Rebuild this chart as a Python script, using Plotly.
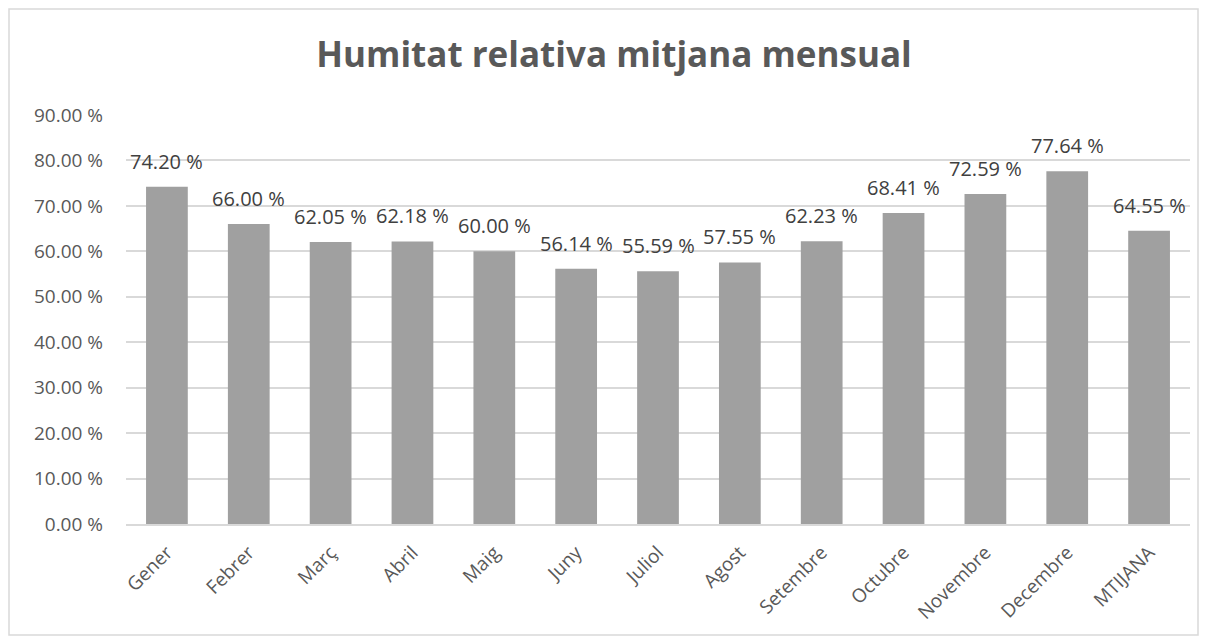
import plotly.graph_objects as go

categories = ["Gener", "Febrer", "Març", "Abril", "Maig", "Juny", "Juliol", "Agost",
              "Setembre", "Octubre", "Novembre", "Decembre", "MTIJANA"]
values = [74.20, 66.00, 62.05, 62.18, 60.00, 56.14, 55.59, 57.55, 62.23, 68.41, 72.59, 77.64, 64.55]
labels = [f"{v:.2f} %" for v in values]

fig = go.Figure()
fig.add_trace(go.Bar(
    x=categories, y=values,
    marker=dict(color="#a0a0a0", line=dict(width=0)),
    hoverinfo="x+y",
))
for c, v, t in zip(categories, values, labels):
    fig.add_annotation(x=c, y=v, text=t, showarrow=False, yanchor="bottom",
                       yshift=10, font=dict(size=20, color="#404040"))

# page has an 8px body margin; figure coords = screen coords - 8
W, H = 1200, 636
L, R, T, B = 118, 18, 107, 120
pw, ph = W - L - R, H - T - B
def px(x): return (x - L) / pw
def py(y): return (H - B - y) / ph

fig.add_shape(type="rect", xref="paper", yref="paper",
              x0=px(1), x1=px(1190), y0=py(627), y1=py(1),
              line=dict(color="#d9d9d9", width=1.5), layer="below")

fig.update_layout(
    width=W, height=H,
    margin=dict(l=L, r=R, t=T, b=B),
    paper_bgcolor="white", plot_bgcolor="white",
    font=dict(family="Open Sans", color="#595959"),
    title=dict(text="<b>Humitat relativa mitjana mensual</b>", x=606 / W, xref="container",
               xanchor="center", y=1 - 47 / H, yanchor="middle",
               font=dict(size=35, color="#595959", family="Open Sans")),
    bargap=0.49,
    showlegend=False,
    xaxis=dict(tickangle=-45, tickfont=dict(size=19, color="#595959"),
               showline=True, linecolor="#d9d9d9", linewidth=2, ticks="",
               ticklabelstandoff=8),
    yaxis=dict(range=[0, 90], dtick=10, tickformat=".2f", ticksuffix=" %",
               tickfont=dict(size=19, color="#595959"),
               gridcolor="#d9d9d9", gridwidth=1.5, zeroline=False, showline=False,
               ticklabelstandoff=22),
)
fig.write_html("out.html")
